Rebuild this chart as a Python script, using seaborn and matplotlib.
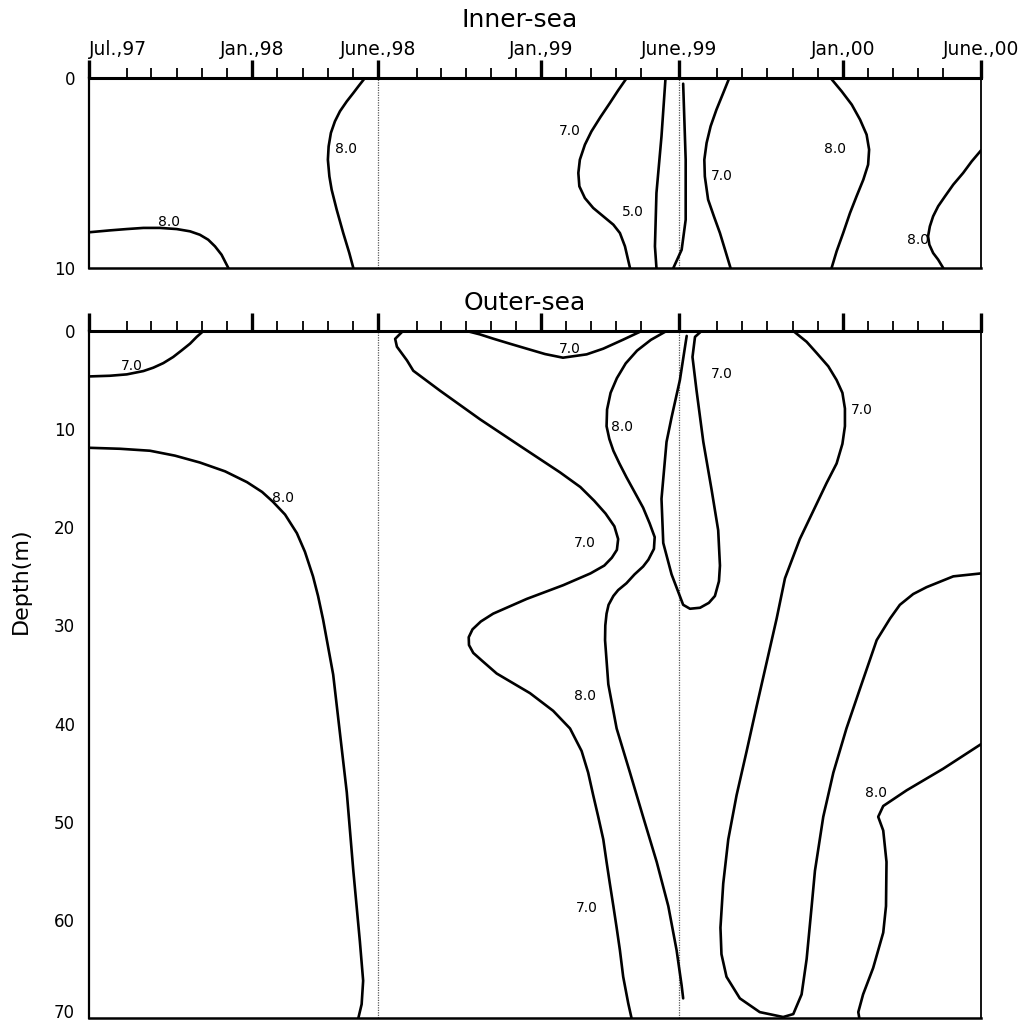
import numpy as np
import pandas as pd
import matplotlib
matplotlib.use("Agg")
import matplotlib.pyplot as plt
import seaborn as sns

# time axis: months from Jul. 1997, spaced as in the original figure
major_ticks = [0, 6.47, 11.47, 17.94, 23.41, 29.92, 35.4]
major_labels = ["Jul.,97", "Jan.,98", "June.,98", "Jan.,99", "June.,99", "Jan.,00", "June.,00"]
minor_ticks = [1.51, 2.46, 3.49, 4.48, 5.48, 7.46, 8.49, 9.48, 10.48,
               13.02, 13.97, 14.96, 15.95, 16.94, 18.93, 19.92, 20.91, 21.90,
               24.92, 25.91, 26.90, 27.94, 28.93, 30.91, 31.90, 32.90, 33.89]
june_marks = [11.47, 23.41]

# ---- Inner-sea isolines (month, depth m) ----
in_a_t = [0, 0.83, 1.50, 2.16, 2.82, 3.48, 4.01, 4.40, 4.73, 5.0, 5.26, 5.53]
in_a_d = [8.12, 8.02, 7.95, 7.89, 7.89, 7.95, 8.07, 8.25, 8.51, 8.86, 9.30, 10]
in_b_t = [10.95, 10.69, 10.49, 10.23, 9.96, 9.76, 9.60, 9.51, 9.48, 9.54, 9.63,
          9.83, 10.09, 10.33, 10.49]
in_b_d = [0, 0.44, 0.79, 1.23, 1.75, 2.28, 2.89, 3.60, 4.30, 5.18, 5.88,
          6.93, 8.16, 9.21, 10]
in_c_t = [21.34, 21.0, 20.67, 20.30, 19.94, 19.68, 19.48, 19.42, 19.46, 19.68,
          20.01, 20.41, 20.81, 21.07, 21.27, 21.47]
in_c_d = [0, 0.65, 1.32, 2.05, 2.81, 3.51, 4.30, 5.0, 5.70, 6.32,
          6.84, 7.28, 7.72, 8.16, 8.86, 10]
in_d_t = [22.88, 22.72, 22.52, 22.46, 22.52]
in_d_d = [0, 3.07, 6.05, 8.86, 10]
in_e_t = [23.58, 23.68, 23.68, 23.52, 23.19]
in_e_d = [0.30, 4.30, 7.46, 9.04, 10]
in_f_t = [25.41, 25.17, 24.90, 24.67, 24.51, 24.42, 24.44, 24.57, 24.80, 25.04,
          25.26, 25.46]
in_f_d = [0, 0.79, 1.67, 2.54, 3.42, 4.30, 5.18, 6.40, 7.28, 8.16,
          9.12, 10]
in_g_t = [29.43, 29.87, 30.27, 30.60, 30.86, 30.96, 30.92, 30.73, 30.46, 30.20,
          29.93, 29.67, 29.47]
in_g_d = [0, 0.70, 1.40, 2.19, 2.98, 3.77, 4.56, 5.35, 6.23, 7.11,
          8.16, 9.12, 10]
in_h_t = [35.4, 35.03, 34.69, 34.30, 33.97, 33.70, 33.50, 33.37, 33.30, 33.35,
          33.50, 33.70, 33.90]
in_h_d = [3.81, 4.39, 5.0, 5.61, 6.23, 6.75, 7.28, 7.81, 8.33, 8.77,
          9.21, 9.56, 10]

in_lab_text = ["8.0", "8.0", "7.0", "5.0", "7.0", "8.0", "8.0"]
in_lab_t = [3.17, 10.18, 19.09, 21.59, 25.12, 29.60, 32.9]
in_lab_d = [7.6, 3.74, 2.8, 7.07, 5.14, 3.74, 8.5]

# ---- Outer-sea isolines ----
out_a_t = [0, 0.83, 1.50, 2.16, 2.55, 2.95, 3.34, 3.68, 4.01, 4.27, 4.54]
out_a_d = [4.63, 4.56, 4.42, 4.08, 3.74, 3.27, 2.65, 1.97, 1.29, 0.61, 0]
out_b_t = [0, 1.23, 2.42, 3.41, 4.40, 5.40, 6.27, 6.87, 7.30, 7.78, 8.25, 8.57,
           8.89, 9.09, 9.29, 9.69, 9.96, 10.23, 10.49, 10.75, 10.88, 10.82, 10.69]
out_b_d = [11.9, 12.0, 12.2, 12.7, 13.4, 14.3, 15.4, 16.4, 17.4, 18.7, 20.6, 22.5,
           25.0, 27.0, 29.4, 35.0, 41.0, 47.0, 55.0, 62.2, 66.2, 68.6, 70]
out_c_t = [14.99, 15.52, 16.04, 16.71, 17.37, 18.10, 18.81, 19.75, 20.41, 21.20, 21.93]
out_c_d = [0, 0.35, 0.78, 1.3, 1.8, 2.35, 2.72, 2.38, 1.80, 0.88, 0]
out_d_t = [12.46, 12.15, 12.22, 12.62, 12.87, 13.93, 15.52, 17.10, 18.69, 19.50,
           20.05, 20.50, 20.85, 21.00, 20.95, 20.75, 20.45, 19.90, 18.82, 17.37,
           16.04, 15.55, 15.22, 15.07, 15.08, 15.25, 15.60, 16.18, 17.50, 18.42,
           19.09, 19.55, 19.81, 20.01, 20.21, 20.41, 20.54, 20.67, 20.81, 20.94,
           21.07, 21.20, 21.40, 21.53]
out_d_d = [0, 0.8, 1.6, 3.0, 4.05, 6.08, 9.0, 11.7, 14.4, 15.9,
           17.3, 18.6, 19.9, 21.2, 22.3, 23.1, 23.9, 24.7, 25.9, 27.3,
           28.8, 29.6, 30.4, 31.2, 32.0, 32.8, 33.6, 34.9, 36.9, 38.7,
           40.5, 42.8, 45.0, 47.3, 49.5, 51.8, 54.1, 56.3, 58.6, 60.8,
           63.1, 65.8, 68.5, 70]
out_e_t = [22.92, 22.3, 21.75, 21.3, 20.95, 20.7, 20.56, 20.54, 20.65, 20.81,
           21.05, 21.33, 21.65, 21.99, 22.25, 22.45, 22.42, 22.2, 21.99, 21.65,
           21.33, 21.0, 20.81, 20.62, 20.54, 20.49, 20.48, 20.61, 20.94, 21.47,
           21.99, 22.53, 22.99, 23.32, 23.52, 23.58]
out_e_d = [0, 0.9, 2.0, 3.3, 4.8, 6.3, 8.0, 9.7, 11.0, 12.2,
           13.5, 14.9, 16.4, 18.0, 19.6, 21.0, 22.2, 23.3, 24.0, 24.8,
           25.7, 26.4, 27.0, 27.9, 28.8, 30.0, 31.5, 36.0, 40.5, 45.0,
           49.5, 54.1, 58.6, 63.1, 66.7, 68.0]
out_f_t = [23.72, 23.45, 23.12, 22.92, 22.72, 22.79, 23.12, 23.58, 23.85, 24.25,
           24.6, 24.84, 25.0, 25.04, 24.97, 24.71, 24.38, 24.11, 23.95, 24.05, 24.31]
out_f_d = [0.5, 5.0, 8.8, 11.3, 17.1, 21.6, 24.8, 27.9, 28.3, 28.2,
           27.7, 27.0, 25.5, 23.9, 20.3, 16.2, 11.3, 6.05, 2.65, 0.6, 0]
out_g_t = [27.95, 28.48, 28.88, 29.34, 29.67, 29.90, 30.0, 30.0, 29.90, 29.67,
           29.27, 28.88, 28.21, 27.62, 27.29, 26.89, 26.49, 26.10, 25.70, 25.37,
           25.17, 25.06, 25.10, 25.30, 25.83, 26.62, 27.55, 27.95, 28.28, 28.48,
           28.68, 28.81, 29.14, 29.54, 30.06, 30.59, 31.26, 31.79, 32.18, 32.71,
           33.24, 34.30, 35.4]
out_g_d = [0, 1.1, 2.25, 3.6, 5.0, 6.3, 7.9, 9.7, 11.5, 13.5,
           15.5, 17.6, 21.2, 25.2, 29.3, 33.8, 38.3, 42.8, 47.3, 51.8,
           56.3, 60.8, 63.5, 65.8, 68.0, 69.4, 69.9, 69.6, 67.6, 64.0,
           58.6, 55.0, 49.5, 45.0, 40.5, 36.5, 31.5, 29.3, 27.9, 26.8,
           26.1, 25.0, 24.7]
out_h_t = [35.4, 33.90, 32.45, 31.52, 31.32, 31.52, 31.65, 31.63, 31.52, 31.12,
           30.72, 30.53, 30.57]
out_h_d = [42.1, 44.6, 46.8, 48.4, 49.5, 50.9, 54.1, 58.6, 61.3, 64.9,
           67.6, 69.4, 70]

out_lab_text = ["7.0", "8.0", "7.0", "8.0", "7.0", "8.0", "7.0", "7.0", "7.0", "8.0"]
out_lab_t = [1.69, 7.70, 19.09, 21.15, 19.68, 19.68, 19.76, 25.12, 30.67, 31.23]
out_lab_d = [3.6, 17.0, 1.8, 9.8, 21.6, 37.2, 58.8, 4.4, 8.0, 47.1]


def to_frame(curves):
    parts = []
    for i, (t, d) in enumerate(curves):
        parts.append(pd.DataFrame({"month": t, "depth": d, "curve": i}))
    return pd.concat(parts, ignore_index=True)


inner_df = to_frame([(in_a_t, in_a_d), (in_b_t, in_b_d), (in_c_t, in_c_d),
                     (in_d_t, in_d_d), (in_e_t, in_e_d), (in_f_t, in_f_d),
                     (in_g_t, in_g_d), (in_h_t, in_h_d)])
outer_df = to_frame([(out_a_t, out_a_d), (out_b_t, out_b_d), (out_c_t, out_c_d),
                     (out_d_t, out_d_d), (out_e_t, out_e_d), (out_f_t, out_f_d),
                     (out_g_t, out_g_d), (out_h_t, out_h_d)])

sns.set_style("white")
plt.rcParams['font.family'] = ['DejaVu Sans']
plt.rcParams['text.color'] = 'black'
plt.rcParams['xtick.color'] = 'black'
plt.rcParams['ytick.color'] = 'black'
plt.rcParams['axes.labelcolor'] = 'black'

fig = plt.figure(figsize=(10.18, 10.26), dpi=100)
ax_in = fig.add_axes([89 / 1018, 1 - 268 / 1026, 892 / 1018, 190 / 1026])
ax_out = fig.add_axes([89 / 1018, 1 - 1018 / 1026, 892 / 1018, 687 / 1026])


def draw_panel(ax, df, lab_t, lab_d, lab_text, depth_max):
    sns.lineplot(data=df, x="month", y="depth", units="curve", estimator=None,
                 sort=False, color="black", linewidth=1.9, legend=False, ax=ax,
                 solid_joinstyle="round", solid_capstyle="round")
    for x in june_marks:
        ax.axvline(x, color="0.35", lw=0.9, ls=(0, (1, 1)), zorder=1)
    for t, d, s in zip(lab_t, lab_d, lab_text):
        ax.text(t, d, s, ha="center", va="center", fontsize=10, color="black")
    ax.set_xlim(0, 35.4)
    ax.set_ylim(depth_max, 0)
    ax.set_xticks(major_ticks)
    ax.set_xticks(minor_ticks, minor=True)
    ax.xaxis.set_ticks_position("top")
    ax.tick_params(axis="x", which="major", direction="out", length=13, width=2.4,
                   color="black", pad=1, labelsize=13.5)
    ax.tick_params(axis="x", which="minor", direction="out", length=7, width=1.3,
                   color="black")
    ax.set_xlabel("")
    ax.set_ylabel("")
    for side, lw in [("top", 2.2), ("left", 1.6), ("right", 1.3), ("bottom", 1.8)]:
        ax.spines[side].set_visible(True)
        ax.spines[side].set_color("black")
        ax.spines[side].set_linewidth(lw)


draw_panel(ax_in, inner_df, in_lab_t, in_lab_d, in_lab_text, 10)
draw_panel(ax_out, outer_df, out_lab_t, out_lab_d, out_lab_text, 70)

ax_in.set_xticklabels(major_labels)
ax_in.tick_params(axis="x", labeltop=True, labelbottom=False)
ax_in.get_xticklabels()[0].set_ha("left")
ax_out.set_xticklabels([])
ax_out.tick_params(axis="x", labeltop=False, labelbottom=False)

ax_in.set_yticks([0, 10])
ax_in.tick_params(axis="y", length=0, pad=10, labelsize=12)
ax_out.set_yticks(np.arange(0, 80, 10))
ax_out.tick_params(axis="y", length=9, width=1.2, color="black", pad=1, labelsize=12)
yt = ax_out.yaxis.get_major_ticks()
yt[0].tick1line.set_visible(False)
yt[-1].tick1line.set_visible(False)
ax_out.get_yticklabels()[-1].set_va("baseline")

ax_out.set_ylabel("Depth(m)", fontsize=16)
ax_out.yaxis.set_label_coords(-0.065, 0.637)

fig.text(520 / 1018, 1 - 20 / 1026, "Inner-sea", ha="center", va="center", fontsize=18)
fig.text(525 / 1018, 1 - 303 / 1026, "Outer-sea", ha="center", va="center", fontsize=18)

fig.savefig("out.png", dpi=100)
